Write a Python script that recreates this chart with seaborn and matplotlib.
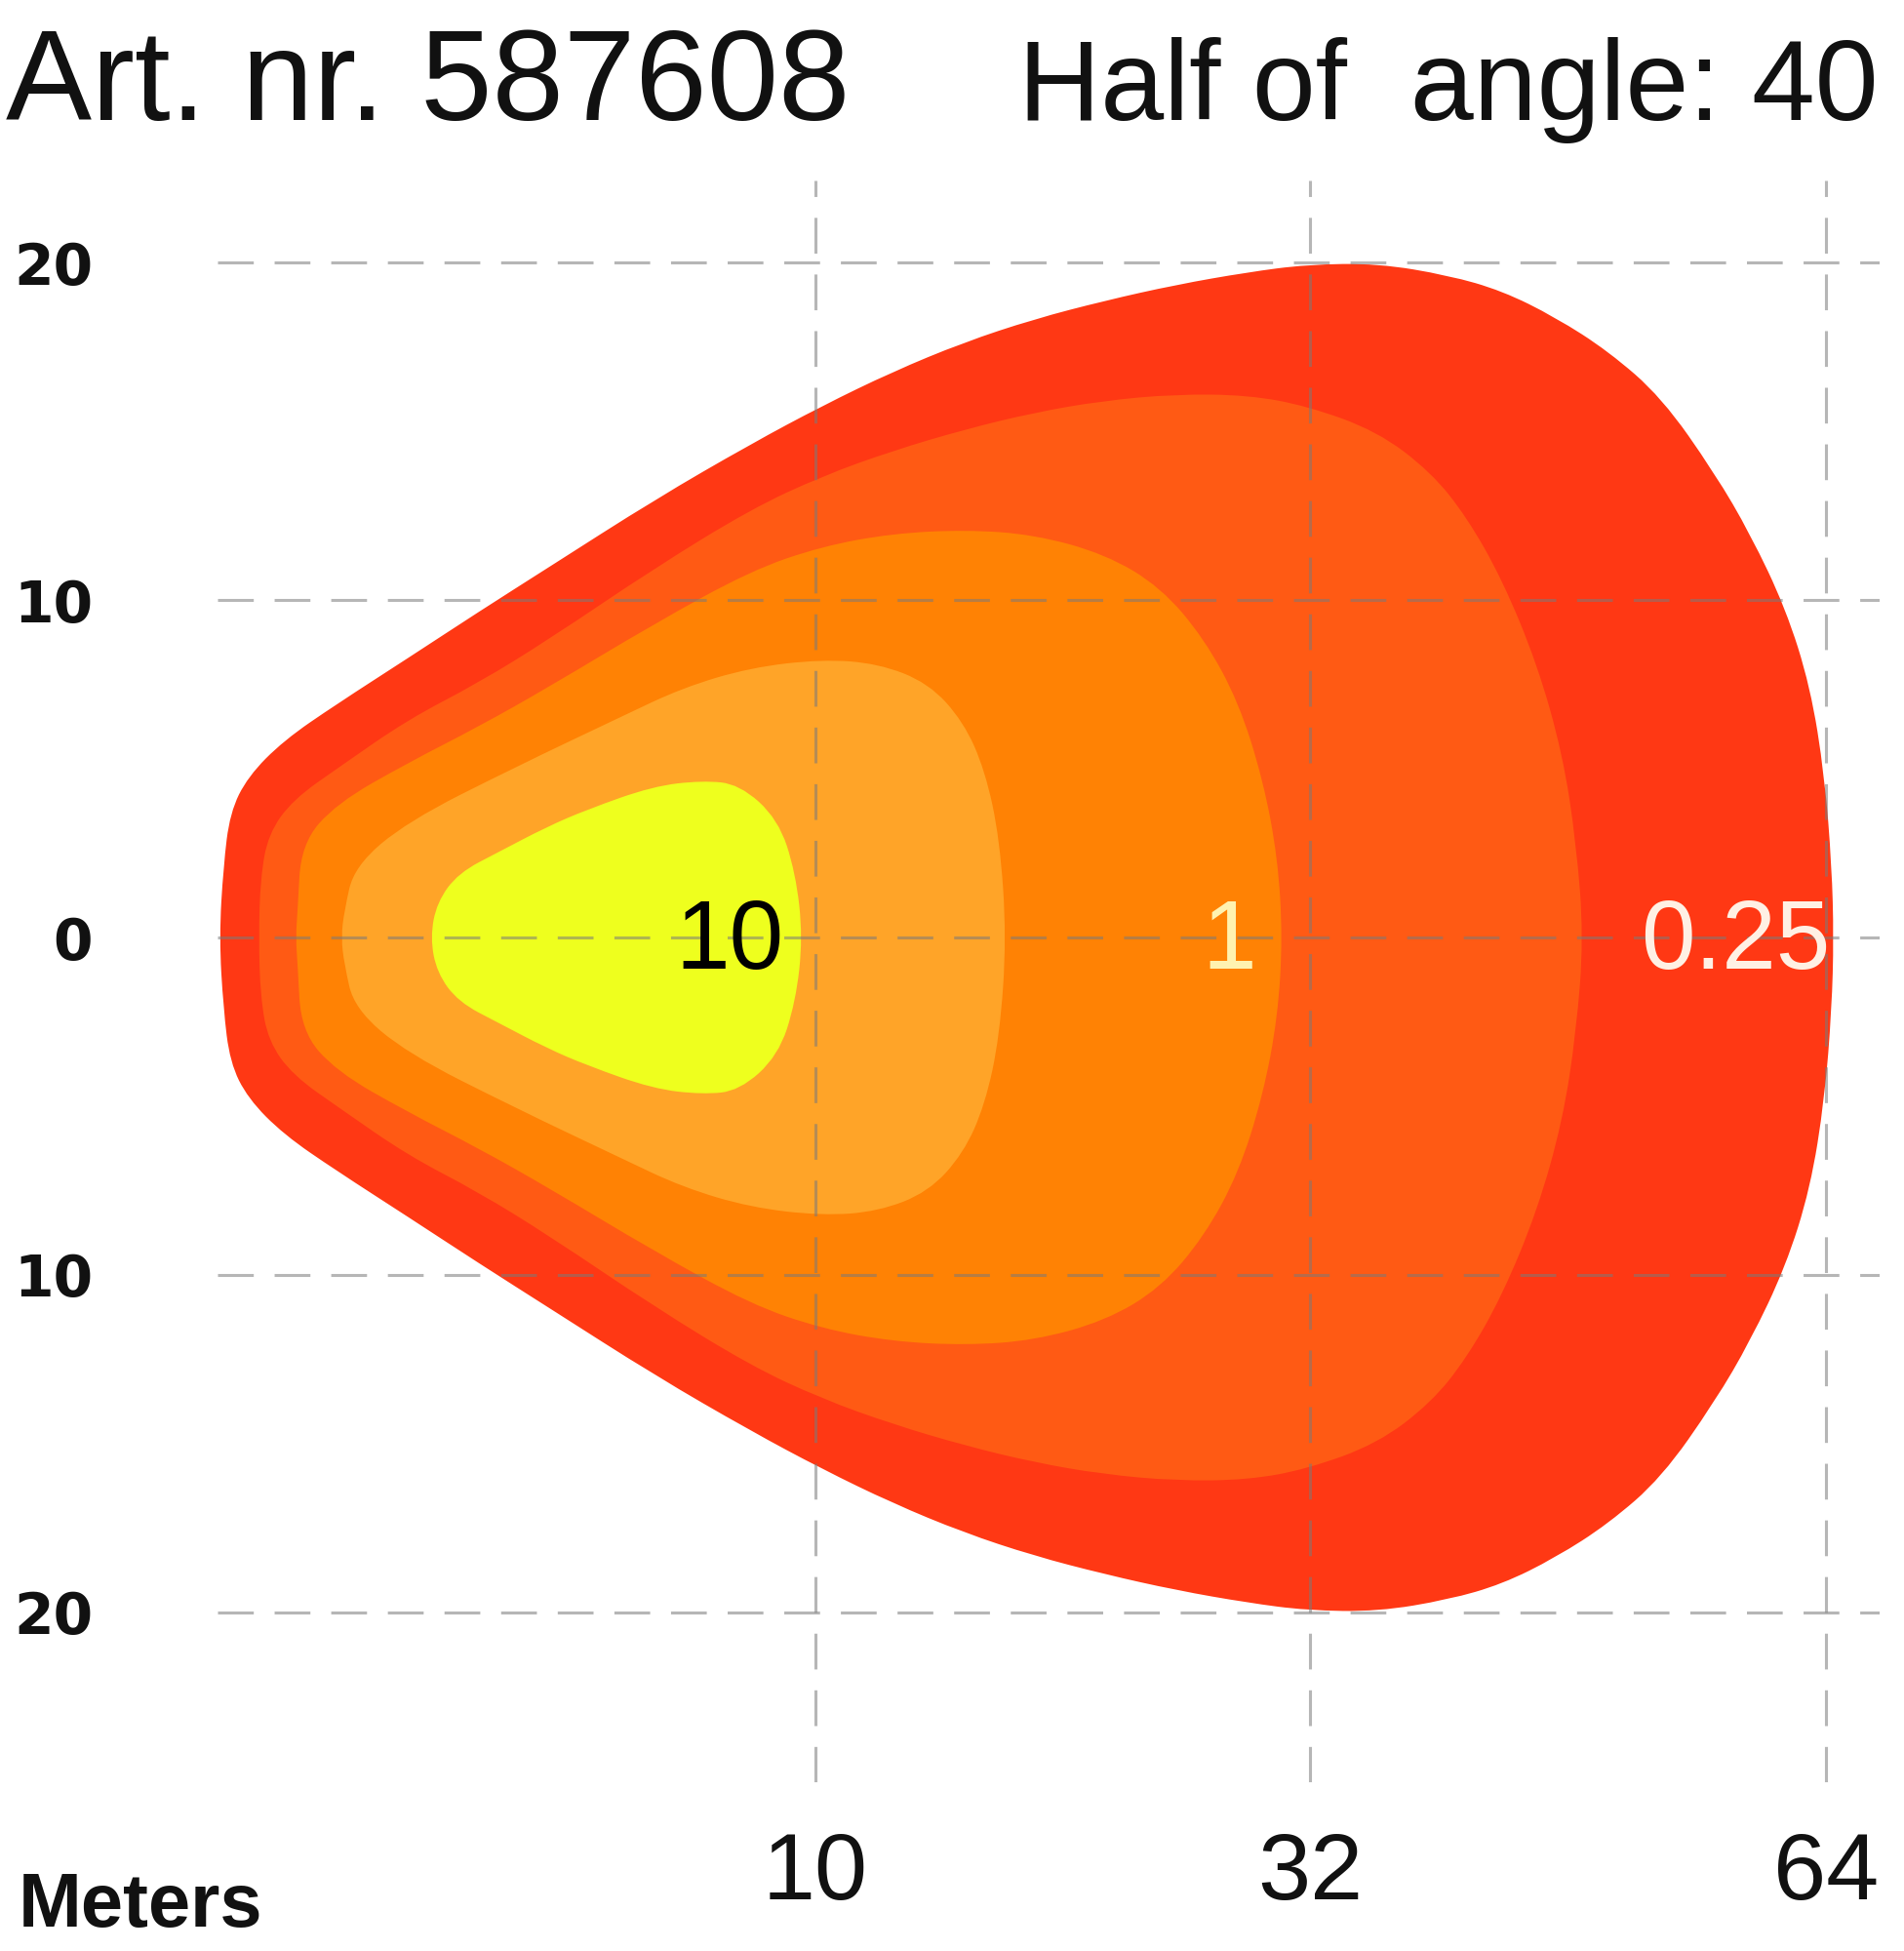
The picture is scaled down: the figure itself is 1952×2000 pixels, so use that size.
import numpy as np
import matplotlib
matplotlib.use("Agg")
import matplotlib.pyplot as plt
import seaborn as sns
from matplotlib import font_manager as fm
from matplotlib.path import Path
from matplotlib.patches import PathPatch

# ---------------- data (metres) ----------------
# upper half outlines of each isolux zone (mirrored about the beam axis)
OUTER_X = [0.03, 0.10, 0.21, 0.51, 1.11, 1.99, 3.18, 4.37, 5.55, 7.32, 8.92, 10.30, 13.43, 16.59,
           19.72, 22.89, 26.05, 29.22, 31.87, 36.22, 40.59, 43.92, 47.21, 50.51, 53.81, 57.11,
           59.31, 61.50, 63.03, 63.92, 64.36, 64.48]
OUTER_Y = [0.0, 2.11, 3.70, 4.77, 5.84, 6.91, 8.27, 9.65, 10.98, 12.98, 14.62, 15.75, 16.76, 17.63,
           18.32, 18.87, 19.34, 19.71, 19.94, 19.97, 19.62, 19.16, 18.38, 17.37, 16.00, 13.75,
           11.95, 9.75, 7.43, 4.77, 2.11, 0.0]

ORRED_X = [0.69, 0.72, 0.85, 1.26, 2.07, 3.18, 4.36, 5.55, 7.29, 8.92, 10.30, 13.43, 16.68, 19.72,
           22.75, 26.05, 29.26, 31.87, 36.17, 39.50, 41.72, 43.92, 46.10, 47.67, 48.52, 48.97]
ORRED_Y = [0.0, 1.76, 3.06, 4.08, 5.09, 6.45, 7.54, 8.84, 10.92, 12.69, 13.67, 14.42, 15.06, 15.55,
           15.90, 16.10, 16.07, 15.75, 15.00, 13.79, 12.46, 10.61, 8.09, 5.43, 2.77, 0.0]

ORANGE_X = [1.31, 1.34, 1.40, 1.99, 3.18, 4.36, 5.55, 7.29, 8.92, 10.29, 13.43, 16.68, 19.72, 22.89,
            25.36, 27.31, 28.83, 29.92, 30.57, 30.78]
ORANGE_Y = [0.0, 0.78, 2.77, 3.97, 5.17, 6.24, 7.43, 9.28, 10.87, 11.59, 11.97, 12.08, 11.94, 11.36,
            10.38, 8.84, 6.97, 4.65, 2.34, 0.0]

LIGHT_X = [2.07, 2.12, 2.29, 3.18, 4.96, 6.74, 7.78, 8.92, 10.29, 12.78, 15.03, 16.59, 17.55, 18.20, 18.50]
LIGHT_Y = [0.0, 0.78, 2.11, 3.44, 5.03, 6.53, 7.40, 8.00, 8.24, 8.12, 7.54, 6.39, 4.94, 2.92, 0.0]

YELLOW_X = [3.56, 3.67, 4.03, 4.71, 5.50, 6.18, 7.28, 8.11, 8.73, 9.38, 9.67, 9.79]
YELLOW_Y = [0.0, 1.04, 1.91, 2.54, 3.27, 3.79, 4.48, 4.65, 4.54, 3.50, 1.91, 0.0]

ZONE_COLORS = ["#FF3814", "#FF5A14", "#FF8204", "#FFA428", "#EEFF1E"]

LABEL_TEXT = ["10", "1", "0.25"]
LABEL_X = [8.56, 28.4, 58.4]
LABEL_COLORS = ["#000000", "#FFF2B0", "#FFF0E4"]

DIST_TICKS = [10, 32, 64]
DIST_LABELS = ["10", "32", "64"]
SIDE_TICKS = [20, 10, 0, -10, -20]
SIDE_LABELS = ["20", "10", "0", "10", "20"]

TITLE_LEFT = "Art. nr. 587608"
TITLE_RIGHT = "Half of  angle: 40"
AXIS_NAME = "Meters"


def pick(fams):
    for f in fams:
        try:
            fm.findfont(fm.FontProperties(family=f), fallback_to_default=False)
            return f
        except Exception:
            pass
    return "DejaVu Sans"


sns.set_theme(style="white")
plt.rcParams["font.family"] = ["Liberation Sans", "DejaVu Sans"]
NARROW = pick(["Liberation Sans Narrow"])
has_narrow = NARROW == "Liberation Sans Narrow"
NARROW_FAM = [NARROW, "Liberation Sans", "DejaVu Sans"] if has_narrow else ["Liberation Sans", "DejaVu Sans"]

fig = plt.figure(figsize=(19.52, 20), dpi=100)
ax = fig.add_axes([0.1142, 0.0865, 0.873, 0.821])

# irregular distance axis: piecewise-linear between the labelled distances
M_KNOTS = [-10, 0, 10, 32, 64, 100]
P_KNOTS = [-613, 0, 613, 1120, 1649, 2244]


def fwd(m):
    return np.interp(m, M_KNOTS, P_KNOTS)


def inv(p):
    return np.interp(p, P_KNOTS, M_KNOTS)


ax.set_xscale("function", functions=(fwd, inv))


def zone_path(xs, ys):
    """Closed outline (upper half + mirrored lower half) drawn as a smooth
    quadratic-Bezier path whose control points are the read outline points."""
    xs = np.asarray(xs, float)
    ys = np.asarray(ys, float)
    px = np.concatenate([xs, xs[-2:0:-1]])
    py = np.concatenate([ys, -ys[-2:0:-1]])
    P = np.column_stack([px, py])
    # joins taken half-way in the axis' own (scaled) coordinate
    sx = fwd(px)
    mx = inv((sx + np.roll(sx, -1)) / 2.0)
    my = (py + np.roll(py, -1)) / 2.0
    mids = np.column_stack([mx, my])
    verts = [mids[-1]]
    codes = [Path.MOVETO]
    for i in range(len(P)):
        verts += [P[i], mids[i]]
        codes += [Path.CURVE3, Path.CURVE3]
    verts.append(mids[-1])
    codes.append(Path.CLOSEPOLY)
    return Path(np.array(verts), codes)


zones = [(OUTER_X, OUTER_Y), (ORRED_X, ORRED_Y), (ORANGE_X, ORANGE_Y),
         (LIGHT_X, LIGHT_Y), (YELLOW_X, YELLOW_Y)]
for (xs, ys), c in zip(zones, ZONE_COLORS):
    patch = PathPatch(zone_path(xs, ys), facecolor=c, edgecolor="none", lw=0,
                      zorder=1, transform=ax.transData)
    ax.add_patch(patch)

for t, x, c in zip(LABEL_TEXT, LABEL_X, LABEL_COLORS):
    ax.text(x, -0.92, t, ha="center", va="baseline", fontsize=72, color=c,
            family=["Liberation Sans", "DejaVu Sans"], zorder=4)

ax.set_xlim(0, 67.33)
ax.set_ylim(-25.03, 22.43)
ax.set_xticks(DIST_TICKS)
ax.set_xticklabels(DIST_LABELS)
ax.set_yticks(SIDE_TICKS)
ax.set_yticklabels(SIDE_LABELS)
ax.minorticks_off()
ax.tick_params(axis="both", length=0)
ax.tick_params(axis="x", pad=36)
ax.tick_params(axis="y", pad=92)
for lab in ax.get_xticklabels():
    lab.set_family(NARROW_FAM)
    lab.set_fontsize(78 if has_narrow else 70)
    lab.set_color("#111111")
for lab in ax.get_yticklabels():
    lab.set_family(["DejaVu Sans"])
    lab.set_fontweight("bold")
    lab.set_fontsize(42)
    lab.set_color("#111111")

ax.set_axisbelow(False)
ax.grid(True, color="#7a7a7a", alpha=0.55, lw=2.2, linestyle=(0, (12, 7)))
sns.despine(ax=ax, left=True, bottom=True)
ax.set_facecolor("white")

fig.text(6 / 1952, 1 - 123 / 2000, TITLE_LEFT, ha="left", va="baseline", fontsize=95,
         color="#111111", family=["Liberation Sans", "DejaVu Sans"])
fig.text(1926 / 1952, 1 - 123 / 2000, TITLE_RIGHT, ha="right", va="baseline",
         fontsize=95 if has_narrow else 84, color="#111111", family=NARROW_FAM)
fig.text(19 / 1952, 1 - 1975 / 2000, AXIS_NAME, ha="left", va="baseline",
         fontsize=68 if has_narrow else 56, fontweight="bold", color="#111111", family=NARROW_FAM)

fig.savefig("out.png", dpi=100, facecolor="white")
